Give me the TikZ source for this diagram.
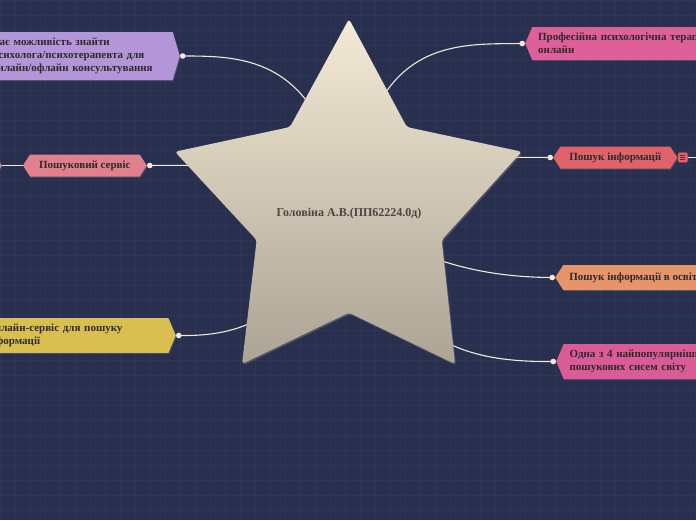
\documentclass[tikz,border=0pt]{standalone}
\usepackage{fontspec}
\setmainfont{Liberation Serif}
\usetikzlibrary{arrows.meta,shapes.symbols,shadows,backgrounds}
\definecolor{Night}{HTML}{29304F}
\definecolor{NightGrid}{HTML}{2E3555}
\definecolor{Cream}{HTML}{F1E9DA}
\definecolor{StarTop}{HTML}{F4EAD6}
\definecolor{StarBot}{HTML}{ABA394}
\definecolor{Ink}{HTML}{2D2A2A}
\definecolor{RootInk}{HTML}{4A4640}
\definecolor{Lilac}{HTML}{B496D8}
\definecolor{Rose}{HTML}{E2808E}
\definecolor{Mustard}{HTML}{D9BF50}
\definecolor{Magenta}{HTML}{DE5F9A}
\definecolor{Coral}{HTML}{DF6369}
\definecolor{Peach}{HTML}{E8946B}
\definecolor{Orchid}{HTML}{DB5B96}

\begin{document}
\begin{tikzpicture}[x=1pt,y=-1pt,
  branch/.style={signal,signal to=east and west,inner xsep=6pt,inner ysep=6pt,align=left,text=Ink,
    font=\bfseries\fontsize{11}{13}\selectfont,drop shadow={opacity=0.35,shadow xshift=0.8pt,shadow yshift=-1.2pt}},
  oneline/.style={signal pointer angle=114,inner xsep=9pt},
  twoline/.style={signal pointer angle=134,text width=176pt},
  threeline/.style={signal pointer angle=147,text width=174.5pt},
  link/.style={draw=Cream,line width=1.1pt},
  dotted end/.style={-{Circle[length=5.5pt]}},
  fold/.style={rectangle,rounded corners=1.5pt,minimum width=10pt,minimum height=10pt,inner sep=0pt,fill=Coral,draw=Coral!65!black,line width=0.6pt,
    path picture={\foreach \dy in {-2.2,0,2.2}
      \draw[Coral!45!black,line width=0.8pt] ([xshift=-2.6pt,yshift=\dy pt]path picture bounding box.center) -- ++(5.2,0);}},
  gridline/.style={NightGrid,line width=0.4pt}
]
\useasboundingbox (0,0) rectangle (696,520);
\clip (0,0) rectangle (696,520);
% central star
\shade[top color=StarTop,bottom color=StarBot,rounded corners=3pt,drop shadow={opacity=0.45,shadow xshift=1pt,shadow yshift=-1.5pt}]
  (349,19) -- (406.7,127) -- (521.7,151.7) -- (441.7,240) -- (455,364) -- (349,312.7)
  -- (242,364) -- (256.7,240) -- (175,151.7) -- (290,127) -- cycle;
\node[text=RootInk,font=\bfseries\fontsize{12}{14}\selectfont] (root) at (349,214) {Головіна А.В.(ПП62224.0д)};
% left side
\node[branch,threeline,fill=Lilac,anchor=east] (desc) at (180,56) {Дає можливість знайти\\психолога/психотерапевта для\\онлайн/офлайн консультування};
\node[branch,oneline,fill=Rose,anchor=east] (svc) at (147,165.5) {Пошуковий сервіс};
\node[branch,oneline,fill=Rose,minimum width=80pt,anchor=east] (child) at (2,165.5) {};
\node[branch,twoline,fill=Mustard,anchor=east] (web) at (176,335.5) {Онлайн-сервіс для пошуку\\інформації};
% right side
\node[branch,twoline,fill=Magenta,anchor=west] (therapy) at (525,43.5) {Професійна психологічна терапія\\онлайн};
\node[branch,oneline,fill=Coral,anchor=west] (info) at (553,157.5) {Пошук інформації};
\node[fold,anchor=west] (fold1) at (info.east) {};
\node[branch,oneline,inner xsep=6pt,minimum height=25pt,fill=Peach,anchor=west] (edu) at (555,277.5) {Пошук інформації в освіті};
\node[branch,twoline,fill=Orchid,anchor=west] (top4) at (556,361.5) {Одна з 4 найпопулярніших\\пошукових сисем світу};
\coordinate (off1) at (700,157.5);
\begin{scope}[on background layer]
  \fill[Night] (0,0) rectangle (696,520);
  \foreach \gx in {0,15,...,690} \draw[gridline] (\gx,0) -- (\gx,520);
  \foreach \gy in {0,15,...,515} \draw[gridline] (0,\gy) -- (696,\gy);
  \draw[link,dotted end] (root) .. controls (320,60) and (250,56) .. (desc.east);
  \draw[link,dotted end] (root) .. controls (300,165) and (220,165) .. (svc.east);
  \draw[link] (svc.west) -- (child.east);
  \draw[link,dotted end] (root) .. controls (290,320) and (240,336) .. (web.east);
  \draw[link,dotted end] (root) .. controls (370,40) and (450,44) .. (therapy.west);
  \draw[link,dotted end] (root) .. controls (400,157) and (480,157) .. (info.west);
  \draw[link] (fold1) -- (off1);
  \draw[link,dotted end] (root) .. controls (420,260) and (480,277) .. (edu.west);
  \draw[link,dotted end] (root) .. controls (400,340) and (460,362) .. (top4.west);
\end{scope}
\end{tikzpicture}
\end{document}
